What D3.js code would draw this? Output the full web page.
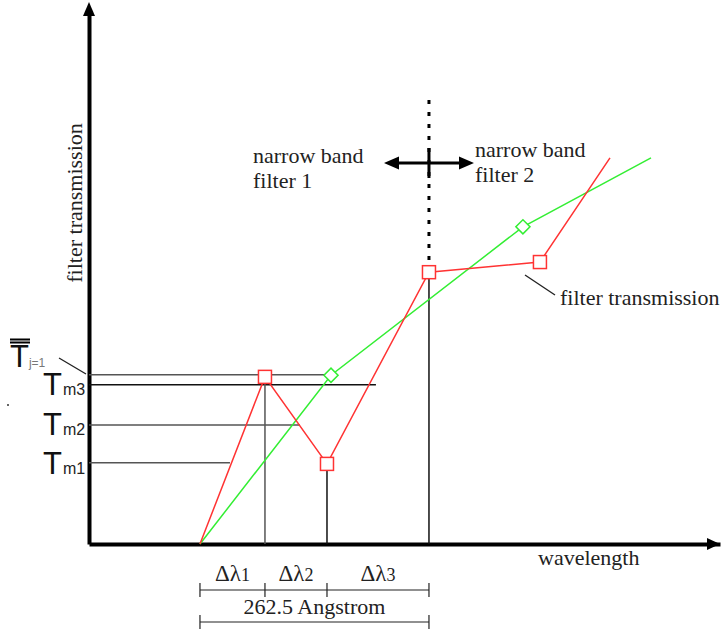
<!DOCTYPE html>
<html>
<head>
<meta charset="utf-8">
<script src="https://cdn.jsdelivr.net/npm/d3@7"></script>
<style>
  body { margin: 0; background: #fff; }
  svg { display: block; }
</style>
</head>
<body>
<svg id="chart" width="721" height="632"></svg>
<script>
// wavelength measured from the start of the first band (Angstrom), transmission in %
var redWave = [0, 74.5, 145.6, 262.5, 389.7, 470];
var redTrans = [0, 31.3, 15.0, 50.9, 52.8, 72.3];
var greenWave = [0, 150.2, 370.2, 517];
var greenTrans = [0, 31.6, 59.4, 72.3];

var levelNames = ["j=1", "m3", "m2", "m1"];
var levelValues = [31.7, 29.8, 22.3, 15.2];
var levelEnds = [150.2, 201.7, 114.6, 34.4];

var bandEdges = [0, 74.5, 145.6, 262.5];
var bandLabels = ["1", "2", "3"];
var totalLabel = "262.5 Angstrom";
var filterEdge = 262.5;

var serif = "'Liberation Serif', 'Times New Roman', Times, serif";
var sans = "'Liberation Sans', Arial, sans-serif";

var svg = d3.select("#chart");

var x = d3.scaleLinear().domain([-127.2, 596.1]).range([89, 720]);
var y = d3.scaleLinear().domain([0, 100]).range([544, 10]);

function note(tx, ty, s) {
  return svg.append("text").attr("x", tx).attr("y", ty)
    .style("font-family", serif).style("font-size", "22px").style("fill", "#222").text(s);
}

// axes (no ticks, just the lines)
svg.append("g").attr("transform", "translate(0," + y(0) + ")")
  .call(d3.axisBottom(x).tickValues([]).tickSizeOuter(0));
svg.append("g").attr("transform", "translate(" + x.range()[0] + ",0)")
  .call(d3.axisLeft(y).tickValues([]).tickSizeOuter(0));
svg.selectAll(".domain").attr("stroke", "#000").attr("stroke-width", 4);

// arrow heads on axes
svg.append("path")
  .attr("d", "M" + (x.range()[1]) + "," + y(0) + "l-13,-6v12z").attr("fill", "#000");
svg.append("path")
  .attr("d", "M" + x.range()[0] + "," + (y(100) - 8) + "l-6,14h12z").attr("fill", "#000");

// horizontal level lines
var lvl = levelValues.map(function(v, i) { return {v: v, end: levelEnds[i], name: levelNames[i]}; });
svg.selectAll(".lvl").data(lvl).enter().append("line")
  .attr("x1", x.range()[0]).attr("x2", function(d) { return x(d.end); })
  .attr("y1", function(d) { return y(d.v); }).attr("y2", function(d) { return y(d.v); })
  .attr("stroke", function(d, i) { return i == 1 ? "#111" : "#555"; }).attr("stroke-width", 1.5);

// vertical drop lines at band edges
svg.selectAll(".drop").data([1, 2, 3]).enter().append("line")
  .attr("x1", function(i) { return x(redWave[i]); }).attr("x2", function(i) { return x(redWave[i]); })
  .attr("y1", function(i) { return y(redTrans[i]); }).attr("y2", y(0))
  .attr("stroke", function(i) { return i == 1 ? "#555" : "#111"; }).attr("stroke-width", 1.5);

// dotted filter boundary
svg.append("line")
  .attr("x1", x(filterEdge)).attr("x2", x(filterEdge))
  .attr("y1", 100).attr("y2", y(redTrans[3]))
  .attr("stroke", "#000").attr("stroke-width", 3).attr("stroke-dasharray", "4,8");
svg.append("line")
  .attr("x1", x(filterEdge)).attr("x2", x(filterEdge))
  .attr("y1", 148).attr("y2", 178)
  .attr("stroke", "#000").attr("stroke-width", 3);

// double arrow
var ay = 163;
svg.append("line").attr("x1", x(filterEdge) - 40).attr("x2", x(filterEdge) + 40)
  .attr("y1", ay).attr("y2", ay).attr("stroke", "#000").attr("stroke-width", 3);
svg.append("path").attr("d", "M" + (x(filterEdge) - 45) + "," + ay + "l15,-6.5v13z").attr("fill", "#000");
svg.append("path").attr("d", "M" + (x(filterEdge) + 45) + "," + ay + "l-15,-6.5v13z").attr("fill", "#000");

// curves
var line = d3.line().x(function(d) { return x(d[0]); }).y(function(d) { return y(d[1]); });
var greenPts = greenWave.map(function(w, i) { return [w, greenTrans[i]]; });
var redPts = redWave.map(function(w, i) { return [w, redTrans[i]]; });

svg.append("path").attr("d", line(greenPts)).attr("fill", "none")
  .attr("stroke", "#33ee33").attr("stroke-width", 1.5);
svg.append("path").attr("d", line(redPts)).attr("fill", "none")
  .attr("stroke", "#ff3333").attr("stroke-width", 1.5);

svg.selectAll(".sq").data(redPts.slice(1, 5)).enter().append("rect")
  .attr("x", function(d) { return x(d[0]) - 6.5; }).attr("y", function(d) { return y(d[1]) - 6.5; })
  .attr("width", 13).attr("height", 13)
  .attr("fill", "#fff").attr("stroke", "#ff3333").attr("stroke-width", 1.5);
svg.selectAll(".dia").data(greenPts.slice(1, 3)).enter().append("rect")
  .attr("x", -5).attr("y", -5).attr("width", 10).attr("height", 10)
  .attr("transform", function(d) { return "translate(" + x(d[0]) + "," + y(d[1]) + ") rotate(45)"; })
  .attr("fill", "#fff").attr("stroke", "#33ee33").attr("stroke-width", 1.5);

// y labels
var tl = svg.selectAll(".tl").data(lvl.slice(1)).enter().append("text")
  .style("font-family", sans).style("fill", "#111")
  .attr("x", 43).attr("y", function(d, i) { return [395, 435, 474][i]; });
tl.append("tspan").style("font-size", "31px").text("T");
tl.append("tspan").style("font-size", "16px").style("fill", "#222").attr("dx", 1)
  .text(function(d) { return d.name; });

var tb = svg.append("text").style("font-family", sans).style("fill", "#111").attr("x", 10).attr("y", 367);
tb.append("tspan").style("font-size", "31px").text("T");
tb.append("tspan").style("font-size", "12px").style("fill", "#777").text(levelNames[0]);
svg.append("rect").attr("x", 10).attr("y", 338.5).attr("width", 20).attr("height", 2).attr("fill", "#000");
svg.append("rect").attr("x", 10).attr("y", 341.5).attr("width", 20).attr("height", 2).attr("fill", "#000");
svg.append("line").attr("x1", 59).attr("y1", 358).attr("x2", 86).attr("y2", 374)
  .attr("stroke", "#222").attr("stroke-width", 1.3);
svg.append("circle").attr("cx", 8).attr("cy", 405).attr("r", 1).attr("fill", "#333");

// annotations
note(253, 163, "narrow band");
note(253, 188, "filter 1");
note(475, 157, "narrow band");
note(475, 182, "filter 2");
note(560, 305, "filter transmission");
svg.append("line").attr("x1", 525).attr("y1", 275).attr("x2", 555).attr("y2", 295)
  .attr("stroke", "#222").attr("stroke-width", 1.3);
note(538, 565, "wavelength");
note(0, 0, "filter transmission").attr("transform", "translate(82,203) rotate(-90)")
  .attr("text-anchor", "middle");

// band dimension lines
var by = 590, ty = 622;
svg.append("line").attr("x1", x(bandEdges[0])).attr("x2", x(bandEdges[3]))
  .attr("y1", by).attr("y2", by).attr("stroke", "#222").attr("stroke-width", 1.2);
svg.selectAll(".btk").data(bandEdges).enter().append("line")
  .attr("x1", function(d) { return x(d); }).attr("x2", function(d) { return x(d); })
  .attr("y1", by - 7).attr("y2", by + 7).attr("stroke", "#222").attr("stroke-width", 1.2);
var bl = svg.selectAll(".bl").data(bandLabels).enter().append("text")
  .style("font-family", serif).style("font-size", "23px").style("fill", "#222")
  .attr("text-anchor", "middle")
  .attr("x", function(d, i) { return (x(bandEdges[i]) + x(bandEdges[i + 1])) / 2; })
  .attr("y", 581);
bl.append("tspan").text("Δλ");
bl.append("tspan").style("font-size", "18px").text(function(d) { return d; });

svg.append("line").attr("x1", x(bandEdges[0])).attr("x2", x(bandEdges[3]))
  .attr("y1", ty).attr("y2", ty).attr("stroke", "#222").attr("stroke-width", 1.2);
svg.selectAll(".ttk").data([bandEdges[0], bandEdges[3]]).enter().append("line")
  .attr("x1", function(d) { return x(d); }).attr("x2", function(d) { return x(d); })
  .attr("y1", ty - 7).attr("y2", ty + 7).attr("stroke", "#222").attr("stroke-width", 1.2);
note((x(bandEdges[0]) + x(bandEdges[3])) / 2, 614, totalLabel).attr("text-anchor", "middle");
</script>
</body>
</html>
